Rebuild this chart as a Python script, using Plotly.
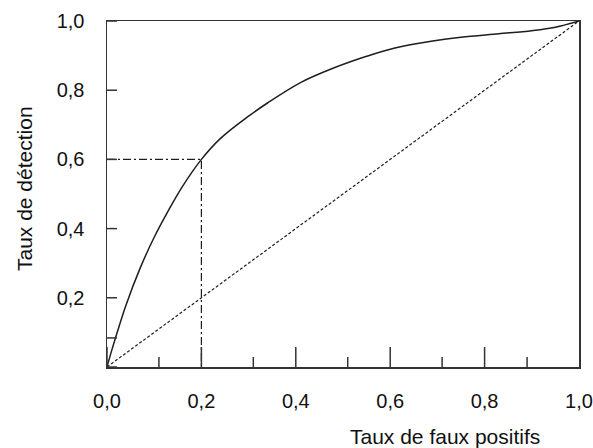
import plotly.graph_objects as go

# ROC curve
roc_x = [0.0, 0.01, 0.02, 0.04, 0.07, 0.1, 0.13, 0.16, 0.2, 0.24, 0.3, 0.34, 0.41, 0.48, 0.55, 0.61, 0.69, 0.75, 0.83, 0.9, 0.95, 1.0]
roc_y = [0.0, 0.048, 0.093, 0.178, 0.285, 0.375, 0.452, 0.522, 0.6, 0.66, 0.725, 0.763, 0.822, 0.864, 0.898, 0.922, 0.942, 0.953, 0.963, 0.972, 0.982, 1.0]

# chance diagonal
diag_x = [0.0, 1.0]
diag_y = [0.0, 1.0]

# operating point
op_x = 0.2
op_y = 0.6

# ticks
x_major = [0.0, 0.2, 0.4, 0.6, 0.8, 1.0]
x_labels = ["0,0", "0,2", "0,4", "0,6", "0,8", "1,0"]
x_minor = [0.11, 0.31, 0.51, 0.71, 0.89]
y_major = [0.0, 0.2, 0.4, 0.6, 0.8, 1.0]
y_labels = ["", "0,2", "0,4", "0,6", "0,8", "1,0"]
y_minor = [0.084]

x_title = "Taux de faux positifs"
y_title = "Taux de détection"

INK = "#1e1e1e"
AX = "#333333"
FONT = "Liberation Sans, Arial, sans-serif"

fig = go.Figure()

fig.add_trace(go.Scatter(x=diag_x, y=diag_y, mode="lines",
                         line=dict(color=INK, width=1.2, dash="3px,2px"),
                         hoverinfo="skip"))
fig.add_trace(go.Scatter(x=[0.0, op_x, op_x], y=[op_y, op_y, 0.0], mode="lines",
                         line=dict(color=INK, width=1.2, dash="8px,3px,2px,3px"),
                         hoverinfo="skip"))
fig.add_trace(go.Scatter(x=roc_x, y=roc_y, mode="lines",
                         line=dict(color=INK, width=1.5, shape="spline", smoothing=1.0),
                         hoverinfo="skip"))

shapes = []
# x ticks: major go 20px up and 10px down, minor 10px each way
for v in x_major[:-1]:
    shapes.append(dict(type="line", xref="x", yref="y", ysizemode="pixel", yanchor=0,
                       x0=v, x1=v, y0=-10, y1=20, line=dict(color=AX, width=1.5)))
for v in x_minor:
    shapes.append(dict(type="line", xref="x", yref="y", ysizemode="pixel", yanchor=0,
                       x0=v, x1=v, y0=-10, y1=10, line=dict(color=AX, width=1.5)))
for v in y_major + y_minor:
    shapes.append(dict(type="line", xref="x", yref="y", xsizemode="pixel", xanchor=0,
                       x0=-10, x1=10, y0=v, y1=v, line=dict(color=AX, width=1.5)))
# y axis extension below 0
shapes.append(dict(type="line", xref="x", yref="y", ysizemode="pixel", yanchor=0,
                   x0=0, x1=0, y0=-10, y1=0, line=dict(color=AX, width=1.5)))

fig.update_layout(
    width=593, height=448,
    margin=dict(l=107, r=14, t=21, b=81, autoexpand=False),
    paper_bgcolor="white", plot_bgcolor="white",
    showlegend=False,
    hovermode=False,
    font=dict(family=FONT, size=20, color="#111111"),
    shapes=shapes,
    xaxis=dict(range=[0, 1], tickvals=x_major, ticktext=x_labels,
               ticks="outside", ticklen=15, tickcolor="rgba(0,0,0,0)",
               showgrid=False, zeroline=False, showline=True, linecolor=AX,
               linewidth=1.5, mirror=True, fixedrange=True, automargin=False),
    yaxis=dict(range=[0, 1], tickvals=y_major, ticktext=y_labels,
               ticks="outside", ticklen=17, tickcolor="rgba(0,0,0,0)",
               showgrid=False, zeroline=False, showline=True, linecolor=AX,
               linewidth=1.5, mirror=True, fixedrange=True, automargin=False),
    annotations=[
        dict(text=x_title, xref="paper", yref="paper", x=0.716, y=-0.202,
             showarrow=False, font=dict(size=21), xanchor="center", yanchor="middle"),
        dict(text=y_title, xref="paper", yref="paper", x=-0.176, y=0.517,
             showarrow=False, font=dict(size=21), textangle=-90,
             xanchor="center", yanchor="middle"),
    ],
)

fig.write_html(
    "out.html",
    config={"displayModeBar": False, "staticPlot": True},
    post_script="document.body.style.margin='0';document.body.style.overflow='hidden';",
)
